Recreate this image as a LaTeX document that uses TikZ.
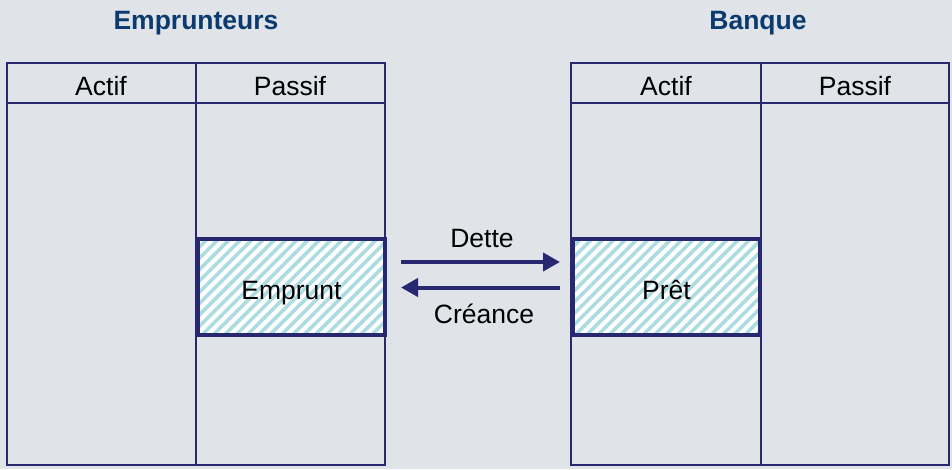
\documentclass[tikz,border=0pt]{standalone}
\usepackage{fontspec}
\setmainfont{Liberation Sans}
\usetikzlibrary{arrows.meta,patterns.meta}
\definecolor{bgc}{RGB}{224,227,232}
\definecolor{navy}{RGB}{40,40,112}
\definecolor{titlec}{RGB}{10,58,110}
\definecolor{hatchc}{RGB}{172,220,226}
\tikzset{
  tbl/.style={draw=navy, line width=2.5pt, anchor=north west, inner sep=0pt, outer sep=0pt},
  sep/.style={draw=navy, line width=2.5pt},
  hatchbox/.style={draw=navy, line width=4pt, anchor=north west, inner sep=0pt, outer sep=0pt,
    minimum width=187pt, minimum height=96pt, font=\fontsize{26.5}{30}\selectfont,
    text height=26pt, text depth=2pt,
    preaction={fill=white},
    pattern={Lines[angle=45,distance=8pt,line width=3.6pt]}, pattern color=hatchc},
  hdr/.style={font=\fontsize{26.5}{30}\selectfont, anchor=base, inner sep=0pt},
  ttl/.style={font=\bfseries\fontsize{26.5}{30}\selectfont, text=titlec, anchor=base, inner sep=0pt},
  lbl/.style={font=\fontsize{26.5}{30}\selectfont, anchor=base, inner sep=0pt},
  arr/.style={draw=navy, line width=4pt, -{Triangle[length=17pt,width=18pt]}}
}
\begin{document}
\begin{tikzpicture}[x=1pt,y=-1pt]
\fill[bgc] (0,0) rectangle (952,469);
\useasboundingbox (0,0) rectangle (952,469);
% titles
\node[ttl] (t1) at (196,29) {Emprunteurs};
\node[ttl] (t2) at (758,29) {Banque};
% left table
\node[tbl, minimum width=378pt, minimum height=402pt] (L) at (7,63) {};
\coordinate (Ld1) at (196,63); \coordinate (Ld2) at (196,465);
\coordinate (Lh1) at (7,103); \coordinate (Lh2) at (385,103);
\draw[sep] (Ld1) -- (Ld2);
\draw[sep] (Lh1) -- (Lh2);
\node[hdr] (la) at (101,95) {Actif};
\node[hdr] (lp) at (290,95) {Passif};
% right table
\node[tbl, minimum width=378pt, minimum height=402pt] (R) at (571,63) {};
\coordinate (Rd1) at (761,63); \coordinate (Rd2) at (761,465);
\coordinate (Rh1) at (571,103); \coordinate (Rh2) at (949,103);
\draw[sep] (Rd1) -- (Rd2);
\draw[sep] (Rh1) -- (Rh2);
\node[hdr] (ra) at (666,95) {Actif};
\node[hdr] (rp) at (855,95) {Passif};
% hatched boxes
\node[hatchbox] (emp) at (198,239) {Emprunt};
\node[hatchbox] (pret) at (573,239) {Prêt};
% arrows
\draw[arr, shorten <=16pt, shorten >=13pt] ([yshift=25pt]emp.east) -- ([yshift=25pt]pret.west);
\draw[arr, shorten <=13pt, shorten >=16pt] ([yshift=-0.5pt]pret.west) -- ([yshift=-0.5pt]emp.east);
\node[lbl] (dette) at (482,247) {Dette};
\node[lbl] (creance) at (484,323) {Créance};
\end{tikzpicture}
\end{document}
